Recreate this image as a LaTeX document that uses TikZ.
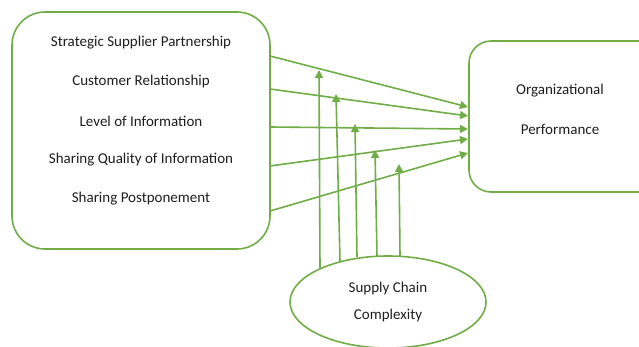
\documentclass[tikz,border=0pt]{standalone}
\usepackage{fontspec}
\setmainfont{Carlito}
\usetikzlibrary{arrows.meta,shapes.geometric}
\definecolor{ogreen}{RGB}{112,173,71}
\definecolor{txt}{RGB}{30,30,30}
\tikzset{
  box/.style={draw=ogreen,line width=1.6pt,rounded corners=#1,fill=white},
  lbl/.style={font=\fontsize{15}{18}\selectfont,text=txt,inner sep=0pt,anchor=center},
  arr/.style={draw=ogreen,line width=1.6pt,-{Triangle[length=8pt,width=8pt]}}
}
\begin{document}
\begin{tikzpicture}[x=1pt,y=-1pt]
\useasboundingbox (0,0) rectangle (639,347);
\clip (0,0) rectangle (639,347);
% boxes
\draw[box=33pt] (12,12) rectangle (270,249);
\draw[box=22pt] (469,41) rectangle (665,192);
\node[draw=ogreen,line width=1.6pt,ellipse,minimum width=196pt,minimum height=92pt,inner sep=0pt] (E) at (388,302) {};
% labels
\node[lbl] (t1) at (141,43) {Strategic Supplier Partnership};
\node[lbl] (t2) at (141,82) {Customer Relationship};
\node[lbl] (t3) at (141,121) {Level of Information};
\node[lbl] (t4) at (141,160) {Sharing Quality of Information};
\node[lbl] (t5) at (141,199) {Sharing Postponement};
\node[lbl] (o1) at (560,91) {Organizational};
\node[lbl] (o2) at (560,129) {Performance};
\node[lbl] (s1) at (388,289) {Supply Chain};
\node[lbl] (s2) at (388,315) {Complexity};
% coordinates
\coordinate (a1) at (270,56);  \coordinate (b1) at (468,107);
\coordinate (a2) at (270,89);  \coordinate (b2) at (468,116);
\coordinate (a3) at (270,127); \coordinate (b3) at (468,129);
\coordinate (a4) at (270,166); \coordinate (b4) at (468,139);
\coordinate (a5) at (270,211); \coordinate (b5) at (468,153);
\coordinate (c1) at (320,269); \coordinate (d1) at (319,70);
\coordinate (c2) at (340,261); \coordinate (d2) at (336,94);
\coordinate (c3) at (357,257); \coordinate (d3) at (355,124);
\coordinate (c4) at (377,256); \coordinate (d4) at (375,150);
\coordinate (c5) at (400,256); \coordinate (d5) at (399,164);
\foreach \i in {1,...,5}{
  \draw[arr] (a\i) -- (b\i);
  \draw[arr] (c\i) -- (d\i);
}
\end{tikzpicture}
\end{document}
